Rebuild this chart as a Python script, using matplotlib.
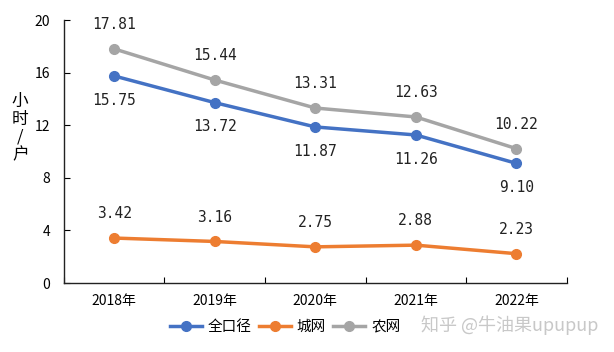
import matplotlib
matplotlib.use("Agg")
import matplotlib.pyplot as plt
import numpy as np

plt.rcParams['font.family'] = ['Noto Sans CJK SC', 'DejaVu Sans']

years = ['2018年', '2019年', '2020年', '2021年', '2022年']
total = [15.75, 13.72, 11.87, 11.26, 9.10]
urban = [3.42, 3.16, 2.75, 2.88, 2.23]
rural = [17.81, 15.44, 13.31, 12.63, 10.22]

c_total = '#4472C4'
c_urban = '#ED7D31'
c_rural = '#A5A5A5'

fig = plt.figure(figsize=(6.14, 3.52), dpi=100)
ax = fig.add_axes([0.104, 0.196, 0.819, 0.747])
x = np.arange(len(years))

ax.plot(x, total, color=c_total, lw=2.5, marker='o', ms=7, label='全口径', zorder=3)
ax.plot(x, urban, color=c_urban, lw=2.5, marker='o', ms=7, label='城网', zorder=3)
ax.plot(x, rural, color=c_rural, lw=2.5, marker='o', ms=7, label='农网', zorder=3)

lab_font = dict(family='DejaVu Sans Mono', fontsize=10.5, color='#222222', ha='center')
for i in x:
    ax.annotate(f'{rural[i]:.2f}', (i, rural[i]), xytext=(0, 12), textcoords='offset points', va='bottom', **lab_font)
    ax.annotate(f'{total[i]:.2f}', (i, total[i]), xytext=(0, -12), textcoords='offset points', va='top', **lab_font)
    ax.annotate(f'{urban[i]:.2f}', (i, urban[i]), xytext=(0, 12), textcoords='offset points', va='bottom', **lab_font)

ax.set_xlim(-0.5, len(years) - 0.5)
ax.set_ylim(0, 20)
ax.set_yticks([0, 4, 8, 12, 16, 20])
ax.tick_params(axis='y', direction='in', length=4, labelsize=10, pad=10)
ax.set_xticks(np.arange(-0.5, len(years), 1.0))
ax.set_xticklabels([])
ax.tick_params(axis='x', which='major', direction='in', length=4)
ax.set_xticks(x, minor=True)
ax.set_xticklabels(years, minor=True, fontsize=10)
ax.tick_params(axis='x', which='minor', length=0, pad=8)

for s in ['top', 'right']:
    ax.spines[s].set_visible(False)
for s in ['left', 'bottom']:
    ax.spines[s].set_color('#222222')
    ax.spines[s].set_linewidth(1.0)

fig.text(0.033, 0.636, '小\n时\n/\n户', fontsize=12, ha='center', va='center', linespacing=1.05)

ax.legend(loc='center', bbox_to_anchor=(0.44, -0.167), ncol=3, frameon=False,
          fontsize=10.5, handlelength=2.2, columnspacing=0.5, handletextpad=0.4)

fig.text(0.83, 0.075, '知乎 @牛油果upupup', fontsize=13, color='#C8C8C8', ha='center', va='center')

fig.savefig('out.png', dpi=100)
